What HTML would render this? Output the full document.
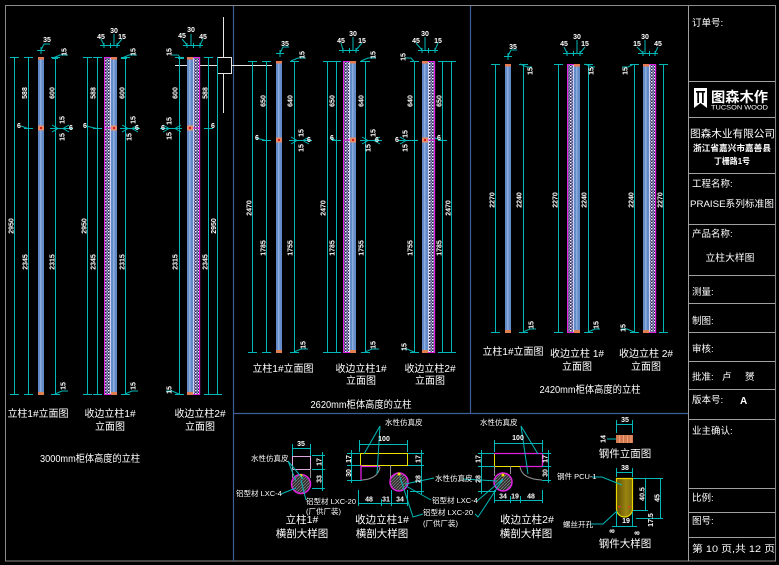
<!DOCTYPE html>
<html><head><meta charset="utf-8">
<style>
html,body{margin:0;padding:0;background:#000;width:779px;height:565px;overflow:hidden;}
svg{display:block;}
text{font-family:"Liberation Sans","Noto Sans CJK SC",sans-serif;fill:#fff;}
.d{font-size:7px;font-weight:bold;}
.c{font-size:10px;}
.b{font-size:10.5px;}
.s{font-size:7.5px;}
.t{font-size:9.5px;}
</style></head><body>
<svg width="779" height="565" viewBox="0 0 779 565" xmlns="http://www.w3.org/2000/svg">
<defs>
<pattern id="h" width="3" height="3" patternUnits="userSpaceOnUse">
<rect width="3" height="3" fill="#2a2a4c"/>
<rect x="0" y="0" width="1.4" height="1.4" fill="#f2f0ff"/>
<rect x="1.5" y="1.5" width="1.4" height="1.4" fill="#b8b0f0"/>
<rect x="1.5" y="0" width="1" height="1" fill="#7070b0"/>
</pattern>
<pattern id="ch" width="3" height="3" patternUnits="userSpaceOnUse">
<rect width="3" height="3" fill="#2e2e2e"/>
<path d="M0,3L3,0" stroke="#8a8a8a" stroke-width="0.7"/>
</pattern>
<linearGradient id="ol" x1="0" y1="0" x2="1" y2="0">
<stop offset="0" stop-color="#5e5000"/><stop offset="0.6" stop-color="#9a8410"/><stop offset="1" stop-color="#7a6a08"/>
</linearGradient>
</defs>
<rect width="779" height="565" fill="#000"/>

<!-- frame -->
<rect x="5.5" y="5.5" width="770" height="555.5" fill="none" stroke="#8a8a8a"/>
<path d="M233.5,6V561M470.5,6V413.5M233.5,413.5H688.5" stroke="#3e5f96" stroke-width="1.2" fill="none"/>
<path d="M688.5,6V561M689,81.5H775M689,117.5H775M689,173.5H775M689,224.5H775M689,275.5H775M689,303.5H775M689,332.5H775M689,361.5H775M689,389.5H775M689,419.5H775M689,488.5H775M689,512.5H775M689,537.5H775" stroke="#a0a0a0" fill="none"/>

<!-- title block -->
<text class="t" x="692" y="26">订单号:</text>
<path d="M694,88H707V108L700.5,103L694,108Z" fill="#fff"/>
<path d="M696,91H705V92.6H696Z M697.3,92H699V103H697.3Z M702,92H703.7V103H702Z" fill="#000"/>
<text x="711" y="102" style="font-size:14px;font-weight:bold" textLength="57" lengthAdjust="spacingAndGlyphs">图森木作</text>
<text x="711" y="109.5" style="font-size:6.5px" textLength="57" lengthAdjust="spacingAndGlyphs">TUCSON WOOD</text>
<text x="690" y="137" style="font-size:10.5px" textLength="85" lengthAdjust="spacingAndGlyphs">图森木业有限公司</text>
<text x="693" y="151" style="font-size:8.5px;font-weight:bold" textLength="78" lengthAdjust="spacingAndGlyphs">浙江省嘉兴市嘉善县</text>
<text x="732" y="164" style="font-size:8.5px;font-weight:bold" text-anchor="middle" textLength="36" lengthAdjust="spacingAndGlyphs">丁栅路1号</text>
<text class="t" x="692" y="187">工程名称:</text>
<text class="t" x="690" y="207" textLength="84" lengthAdjust="spacingAndGlyphs">PRAISE系列标准图</text>
<text class="t" x="692" y="237">产品名称:</text>
<text class="t" x="730" y="261" text-anchor="middle" textLength="49" lengthAdjust="spacingAndGlyphs">立柱大样图</text>
<text class="t" x="692" y="295">测量:</text>
<text class="t" x="692" y="324">制图:</text>
<text class="t" x="692" y="352">审核:</text>
<text class="t" x="692" y="380">批准:</text>
<text class="t" x="722" y="380">卢</text>
<text class="t" x="745" y="380">赟</text>
<text class="t" x="692" y="403">版本号:</text>
<text x="740" y="404" style="font-size:10px;font-weight:bold">A</text>
<text class="t" x="692" y="434">业主确认:</text>
<text class="t" x="692" y="501">比例:</text>
<text class="t" x="692" y="524">图号:</text>
<text class="t" x="692" y="552" textLength="83" lengthAdjust="spacingAndGlyphs">第 10 页,共 12 页</text>

<!-- white marker -->
<g stroke="#e6e6e6" fill="none">
<rect x="217.5" y="57.5" width="14" height="16"/>
<path d="M223.5,17V57M223.5,74V113M175,65.5H217M231.5,65.5H272"/>
</g>

<!-- ============ LEFT PANEL posts ============ -->
<rect x="38" y="57" width="6" height="338" fill="#628bc8"/>
<rect x="40" y="57" width="1.5" height="338" fill="#8cacde"/>
<rect x="38" y="57" width="6" height="2.5" fill="#e8784e"/>
<rect x="38" y="392" width="6" height="3" fill="#e08050"/>
<rect x="38" y="125.5" width="6" height="5" fill="#e88a68"/><rect x="40" y="127" width="2" height="2" fill="#d02020"/>

<rect x="104" y="57" width="1.2" height="338" fill="#e020e0"/>
<rect x="105.2" y="57" width="4.8" height="338" fill="url(#h)"/>
<rect x="110" y="57" width="1" height="338" fill="#d0d0f0"/>
<rect x="111" y="57" width="6" height="338" fill="#628bc8"/>
<rect x="113" y="57" width="1.5" height="338" fill="#8cacde"/>
<rect x="104" y="57" width="7" height="1" fill="#e020e0"/><rect x="104" y="394" width="7" height="1" fill="#e020e0"/>
<rect x="111" y="57" width="6" height="2.5" fill="#e8784e"/><rect x="111" y="392" width="6" height="3" fill="#e08050"/>
<rect x="104" y="127.5" width="7" height="1" fill="#e020e0"/>
<rect x="111" y="125.5" width="6" height="5" fill="#e88a68"/><rect x="113" y="127" width="2" height="2" fill="#d02020"/>

<rect x="187" y="57" width="6" height="338" fill="#628bc8"/>
<rect x="189" y="57" width="1.5" height="338" fill="#8cacde"/>
<rect x="193" y="57" width="1" height="338" fill="#d0d0f0"/>
<rect x="194" y="57" width="5" height="338" fill="url(#h)"/>
<rect x="199" y="57" width="1.2" height="338" fill="#e020e0"/>
<rect x="193" y="57" width="7" height="1" fill="#e020e0"/><rect x="193" y="394" width="7" height="1" fill="#e020e0"/>
<rect x="187" y="57" width="6" height="2.5" fill="#e8784e"/><rect x="187" y="392" width="6" height="3" fill="#e08050"/>
<rect x="193" y="127.5" width="7" height="1" fill="#e020e0"/>
<rect x="187" y="125.5" width="6" height="5" fill="#e88a68"/><rect x="189" y="127" width="2" height="2" fill="#d02020"/>

<!-- ============ MIDDLE PANEL posts ============ -->
<rect x="276" y="61" width="6" height="292" fill="#628bc8"/>
<rect x="278" y="61" width="1.5" height="292" fill="#8cacde"/>
<rect x="276" y="61" width="6" height="2.5" fill="#e8784e"/>
<rect x="276" y="350" width="6" height="3" fill="#e08050"/>
<rect x="276" y="137.5" width="6" height="5" fill="#e88a68"/><rect x="278" y="139" width="2" height="2" fill="#d02020"/>

<rect x="343" y="61" width="1.2" height="292" fill="#e020e0"/>
<rect x="344.2" y="61" width="4.8" height="292" fill="url(#h)"/>
<rect x="349" y="61" width="1" height="292" fill="#d0d0f0"/>
<rect x="350" y="61" width="6" height="292" fill="#628bc8"/>
<rect x="352" y="61" width="1.5" height="292" fill="#8cacde"/>
<rect x="343" y="61" width="7" height="1" fill="#e020e0"/><rect x="343" y="352" width="7" height="1" fill="#e020e0"/>
<rect x="350" y="61" width="6" height="2.5" fill="#e8784e"/><rect x="350" y="350" width="6" height="3" fill="#e08050"/>
<rect x="343" y="139.5" width="7" height="1" fill="#e020e0"/>
<rect x="350" y="137.5" width="6" height="5" fill="#e88a68"/><rect x="352" y="139" width="2" height="2" fill="#d02020"/>

<rect x="422" y="61" width="6" height="292" fill="#628bc8"/>
<rect x="424" y="61" width="1.5" height="292" fill="#8cacde"/>
<rect x="428" y="61" width="1" height="292" fill="#d0d0f0"/>
<rect x="429" y="61" width="5" height="292" fill="url(#h)"/>
<rect x="434" y="61" width="1.2" height="292" fill="#e020e0"/>
<rect x="428" y="61" width="7" height="1" fill="#e020e0"/><rect x="428" y="352" width="7" height="1" fill="#e020e0"/>
<rect x="422" y="61" width="6" height="2.5" fill="#e8784e"/><rect x="422" y="350" width="6" height="3" fill="#e08050"/>
<rect x="428" y="139.5" width="7" height="1" fill="#e020e0"/>
<rect x="422" y="137.5" width="6" height="5" fill="#e88a68"/><rect x="424" y="139" width="2" height="2" fill="#d02020"/>

<!-- ============ RIGHT PANEL posts ============ -->
<rect x="505" y="64" width="6" height="269" fill="#628bc8"/>
<rect x="507" y="64" width="1.5" height="269" fill="#8cacde"/>
<rect x="505" y="64" width="6" height="2.5" fill="#e8784e"/>
<rect x="505" y="330" width="6" height="3" fill="#e08050"/>

<rect x="567" y="64" width="1.2" height="269" fill="#e020e0"/>
<rect x="568.2" y="64" width="4.8" height="269" fill="url(#h)"/>
<rect x="573" y="64" width="1" height="269" fill="#d0d0f0"/>
<rect x="574" y="64" width="6" height="269" fill="#628bc8"/>
<rect x="576" y="64" width="1.5" height="269" fill="#8cacde"/>
<rect x="567" y="64" width="7" height="1" fill="#e020e0"/><rect x="567" y="332" width="7" height="1" fill="#e020e0"/>
<rect x="574" y="64" width="6" height="2.5" fill="#e8784e"/><rect x="574" y="330" width="6" height="3" fill="#e08050"/>

<rect x="643" y="64" width="6" height="269" fill="#628bc8"/>
<rect x="645" y="64" width="1.5" height="269" fill="#8cacde"/>
<rect x="649" y="64" width="1" height="269" fill="#d0d0f0"/>
<rect x="650" y="64" width="5" height="269" fill="url(#h)"/>
<rect x="655" y="64" width="1.2" height="269" fill="#e020e0"/>
<rect x="649" y="64" width="7" height="1" fill="#e020e0"/><rect x="649" y="332" width="7" height="1" fill="#e020e0"/>
<rect x="643" y="64" width="6" height="2.5" fill="#e8784e"/><rect x="643" y="330" width="6" height="3" fill="#e08050"/>

<!-- ============ dimension lines (cyan) ============ -->
<g stroke="#00b8b8" fill="none" stroke-width="1">
<path d="M14.5,57V395M10,57.5h9M10,394.5h9M28.5,57V395M24,57.5h9M24,128.5h9M24,394.5h9M55.5,57V395M51,57.5h9M51,394.5h9M50,128.5H73M52,125L58,128.5L52,132M69,125L63,128.5L69,132"/>
<path d="M87.5,57V395M83,57.5h9M83,394.5h9M97.5,57V395M93,57.5h9M93,128.5h9M93,394.5h9M125.5,57V395M121,57.5h9M121,394.5h9M120,128.5H140M122,125L128,128.5L122,132M138,125L132,128.5L138,132"/>
<path d="M179.5,57V395M175,57.5h9M175,394.5h9M160,128.5H182M163,125L169,128.5L163,132M181,125L175,128.5L181,132M208.5,57V395M204,57.5h9M204,128.5h9M204,394.5h9M217.5,57V395M213,394.5h9"/>
<path d="M252.5,61V353M248,61.5h9M248,352.5h9M266.5,61V353M262,61.5h9M262,140.5h9M262,352.5h9M294.5,61V353M290,61.5h9M290,352.5h9M289,140.5H312M291,137L297,140.5L291,144M309,137L303,140.5L309,144"/>
<path d="M327.5,61V353M323,61.5h9M323,352.5h9M336.5,61V353M332,61.5h9M332,140.5h9M332,352.5h9M365.5,61V353M361,61.5h9M361,352.5h9M360,140.5H382M362,137L368,140.5L362,144M380,137L374,140.5L380,144"/>
<path d="M414.5,61V353M410,61.5h9M410,352.5h9M398,140.5H418M400,137L406,140.5L400,144M442.5,61V353M438,61.5h9M438,140.5h9M438,352.5h9M451.5,61V353M447,61.5h9M447,352.5h9"/>
<path d="M495.5,64V333M491,64.5h9M491,332.5h9M523.5,64V333M519,64.5h9M519,332.5h9"/>
<path d="M558.5,64V333M554,64.5h9M554,332.5h9M588.5,64V333M584,64.5h9M584,332.5h9"/>
<path d="M634.5,64V333M630,64.5h9M630,332.5h9M663.5,64V333M659,64.5h9M659,332.5h9"/>
<path d="M37,50.5h8M41,47v7M41,50L44,44H50M52,58.5h6M53,58L60,55H68"/>
<path d="M100,45.5H120M104,43v5M110.5,43v5M117,43v5M101,39L104,45M114,34V45M122,39L117,45M121,58.5h6M122,58L129,55H137"/>
<path d="M183,45.5H203M187,43v5M193.5,43v5M200,43v5M182,39L187,45M191,34V45M203,39L200,45M172,55H178L181,58.5M178,58.5h6"/>
<path d="M276,53.5h8M280,50v7M280,53L283,47H289M290,61.5h6M291,61L298,58H306"/>
<path d="M339,50.5H359M343,48v5M349.5,48v5M356,48v5M341,43L343,50M353,37V50M362,43L356,50M360,61.5h6M361,61L368,58H376"/>
<path d="M418,50.5H438M422,48v5M428.5,48v5M435,48v5M416,43L422,50M425,37V50M438,43L435,50M405,58H411L414,61.5M411,61.5h6"/>
<path d="M504,56.5h8M508,53v7M508,56L511,50H517M519,64.5h6M520,64L527,67H532"/>
<path d="M563,53.5H583M567,51v5M573.5,51v5M580,51v5M564,47L567,53M577,40V53M585,47L580,53M584,64.5h6M585,64L592,67H595"/>
<path d="M638,53.5H658M643,51v5M649.5,51v5M655,51v5M637,47L643,53M645,40V53M658,47L655,53M622,67H628L633,64.5M630,64.5h6"/>
<path d="M52,394.5h6M55,394L62,391H68M122,394.5h6M125,394L132,391H138M175,394.5h6M179,394L172,391H166"/>
<path d="M290,352.5h6M294,352L301,349H308M361,352.5h6M365,352L372,349H379M410,352.5h6M414,352L407,349H401"/>
<path d="M519,332.5h6M523,332L530,329H536M584,332.5h6M588,332L595,329H600M630,332.5h6M634,332L627,329H621"/>
<path d="M21,126L28,128.5M86,126L97,128.5M435,138L442,140.5M256,138L266,140.5M330,138L336,140.5"/>
</g>

<!-- dimension labels (rotated) -->
<g>
<text transform="translate(13.5,226) rotate(-90)" text-anchor="middle" class="d">2950</text>
<text transform="translate(27,93) rotate(-90)" text-anchor="middle" class="d">588</text>
<text transform="translate(54.5,93) rotate(-90)" text-anchor="middle" class="d">600</text>
<text transform="translate(27.5,262) rotate(-90)" text-anchor="middle" class="d">2345</text>
<text transform="translate(54.5,262) rotate(-90)" text-anchor="middle" class="d">2315</text>
<text transform="translate(86.5,226) rotate(-90)" text-anchor="middle" class="d">2950</text>
<text transform="translate(95.5,93) rotate(-90)" text-anchor="middle" class="d">588</text>
<text transform="translate(124.5,93) rotate(-90)" text-anchor="middle" class="d">600</text>
<text transform="translate(95.5,262) rotate(-90)" text-anchor="middle" class="d">2345</text>
<text transform="translate(124.5,262) rotate(-90)" text-anchor="middle" class="d">2315</text>
<text transform="translate(177.5,93) rotate(-90)" text-anchor="middle" class="d">600</text>
<text transform="translate(207.5,93) rotate(-90)" text-anchor="middle" class="d">588</text>
<text transform="translate(177.5,262) rotate(-90)" text-anchor="middle" class="d">2315</text>
<text transform="translate(207.5,262) rotate(-90)" text-anchor="middle" class="d">2345</text>
<text transform="translate(216,226) rotate(-90)" text-anchor="middle" class="d">2950</text>

<text transform="translate(251.5,208) rotate(-90)" text-anchor="middle" class="d">2470</text>
<text transform="translate(265.5,101) rotate(-90)" text-anchor="middle" class="d">650</text>
<text transform="translate(292.5,101) rotate(-90)" text-anchor="middle" class="d">640</text>
<text transform="translate(265.5,248) rotate(-90)" text-anchor="middle" class="d">1785</text>
<text transform="translate(292.5,248) rotate(-90)" text-anchor="middle" class="d">1755</text>
<text transform="translate(325.5,208) rotate(-90)" text-anchor="middle" class="d">2470</text>
<text transform="translate(334.5,101) rotate(-90)" text-anchor="middle" class="d">650</text>
<text transform="translate(363.5,101) rotate(-90)" text-anchor="middle" class="d">640</text>
<text transform="translate(334.5,248) rotate(-90)" text-anchor="middle" class="d">1785</text>
<text transform="translate(363.5,248) rotate(-90)" text-anchor="middle" class="d">1755</text>
<text transform="translate(412.5,101) rotate(-90)" text-anchor="middle" class="d">640</text>
<text transform="translate(441.5,101) rotate(-90)" text-anchor="middle" class="d">650</text>
<text transform="translate(412.5,248) rotate(-90)" text-anchor="middle" class="d">1755</text>
<text transform="translate(441.5,248) rotate(-90)" text-anchor="middle" class="d">1785</text>
<text transform="translate(450.5,208) rotate(-90)" text-anchor="middle" class="d">2470</text>

<text transform="translate(494.5,200) rotate(-90)" text-anchor="middle" class="d">2270</text>
<text transform="translate(521.5,200) rotate(-90)" text-anchor="middle" class="d">2240</text>
<text transform="translate(557.5,200) rotate(-90)" text-anchor="middle" class="d">2270</text>
<text transform="translate(586.5,200) rotate(-90)" text-anchor="middle" class="d">2240</text>
<text transform="translate(633.5,200) rotate(-90)" text-anchor="middle" class="d">2240</text>
<text transform="translate(662.5,200) rotate(-90)" text-anchor="middle" class="d">2270</text>

<text transform="translate(65.5,386) rotate(-90)" text-anchor="middle" class="d">15</text>
<text transform="translate(135.5,386) rotate(-90)" text-anchor="middle" class="d">15</text>
<text transform="translate(171.5,390) rotate(-90)" text-anchor="middle" class="d">15</text>
<text transform="translate(305.5,345) rotate(-90)" text-anchor="middle" class="d">15</text>
<text transform="translate(375.5,345) rotate(-90)" text-anchor="middle" class="d">15</text>
<text transform="translate(406.5,347) rotate(-90)" text-anchor="middle" class="d">15</text>
<text transform="translate(533.5,325) rotate(-90)" text-anchor="middle" class="d">15</text>
<text transform="translate(598.5,325) rotate(-90)" text-anchor="middle" class="d">15</text>
<text transform="translate(625.5,328) rotate(-90)" text-anchor="middle" class="d">15</text>
<text transform="translate(66.5,52) rotate(-90)" text-anchor="middle" class="d">15</text>
<text transform="translate(135.5,52) rotate(-90)" text-anchor="middle" class="d">15</text>
<text transform="translate(171.5,52) rotate(-90)" text-anchor="middle" class="d">15</text>
<text transform="translate(304.5,55) rotate(-90)" text-anchor="middle" class="d">15</text>
<text transform="translate(375.5,55) rotate(-90)" text-anchor="middle" class="d">15</text>
<text transform="translate(405.5,57) rotate(-90)" text-anchor="middle" class="d">15</text>
<text transform="translate(532.5,71) rotate(-90)" text-anchor="middle" class="d">15</text>
<text transform="translate(593.5,71) rotate(-90)" text-anchor="middle" class="d">15</text>
<text transform="translate(627.5,71) rotate(-90)" text-anchor="middle" class="d">15</text>
<text transform="translate(64.5,120) rotate(-90)" text-anchor="middle" class="d">15</text>
<text transform="translate(64.5,137) rotate(-90)" text-anchor="middle" class="d">15</text>
<text transform="translate(135.5,120) rotate(-90)" text-anchor="middle" class="d">15</text>
<text transform="translate(131.5,137) rotate(-90)" text-anchor="middle" class="d">15</text>
<text transform="translate(171.5,121) rotate(-90)" text-anchor="middle" class="d">15</text>
<text transform="translate(171.5,136) rotate(-90)" text-anchor="middle" class="d">15</text>
<text transform="translate(303.5,133) rotate(-90)" text-anchor="middle" class="d">15</text>
<text transform="translate(303.5,148) rotate(-90)" text-anchor="middle" class="d">15</text>
<text transform="translate(375.5,133) rotate(-90)" text-anchor="middle" class="d">15</text>
<text transform="translate(370.5,148) rotate(-90)" text-anchor="middle" class="d">15</text>
<text transform="translate(407.5,134) rotate(-90)" text-anchor="middle" class="d">15</text>
<text transform="translate(407.5,148) rotate(-90)" text-anchor="middle" class="d">15</text>
</g>

<g text-anchor="middle">
<text x="47" y="42" class="d">35</text>
<text x="101" y="39" class="d">45</text><text x="114" y="33" class="d">30</text><text x="122" y="39" class="d">15</text>
<text x="182" y="38" class="d">45</text><text x="191" y="32" class="d">30</text><text x="203" y="39" class="d">45</text>
<text x="285" y="46" class="d">35</text>
<text x="341" y="43" class="d">45</text><text x="353" y="36" class="d">30</text><text x="362" y="43" class="d">15</text>
<text x="416" y="43" class="d">45</text><text x="425" y="36" class="d">30</text><text x="438" y="43" class="d">15</text>
<text x="513" y="49" class="d">35</text>
<text x="564" y="46" class="d">45</text><text x="577" y="39" class="d">30</text><text x="585" y="46" class="d">15</text>
<text x="637" y="46" class="d">15</text><text x="645" y="39" class="d">30</text><text x="658" y="46" class="d">45</text>
<text x="19" y="128" class="d">6</text><text x="71" y="130" class="d">6</text>
<text x="85" y="128" class="d">6</text><text x="137" y="130" class="d">6</text>
<text x="163" y="130" class="d">6</text><text x="213" y="128" class="d">6</text>
<text x="257" y="140" class="d">6</text><text x="309" y="142" class="d">6</text>
<text x="332" y="140" class="d">6</text><text x="377" y="142" class="d">6</text>
<text x="397" y="142" class="d">6</text><text x="439" y="140" class="d">6</text>
</g>

<!-- panel captions -->
<text class="c" x="38" y="417" text-anchor="middle">立柱1#立面图</text>
<text class="c" x="110" y="417" text-anchor="middle">收边立柱1#</text>
<text class="c" x="110" y="430" text-anchor="middle">立面图</text>
<text class="c" x="200" y="417" text-anchor="middle">收边立柱2#</text>
<text class="c" x="200" y="430" text-anchor="middle">立面图</text>
<text class="c" x="90" y="462" text-anchor="middle" textLength="100" lengthAdjust="spacingAndGlyphs">3000mm柜体高度的立柱</text>

<text class="c" x="283" y="372" text-anchor="middle">立柱1#立面图</text>
<text class="c" x="361" y="372" text-anchor="middle">收边立柱1#</text>
<text class="c" x="361" y="384" text-anchor="middle">立面图</text>
<text class="c" x="430" y="372" text-anchor="middle">收边立柱2#</text>
<text class="c" x="430" y="384" text-anchor="middle">立面图</text>
<text class="c" x="361" y="408" text-anchor="middle" textLength="101" lengthAdjust="spacingAndGlyphs">2620mm柜体高度的立柱</text>

<text class="c" x="513" y="355" text-anchor="middle">立柱1#立面图</text>
<text class="c" x="577" y="357" text-anchor="middle">收边立柱 1#</text>
<text class="c" x="577" y="370" text-anchor="middle">立面图</text>
<text class="c" x="646" y="357" text-anchor="middle">收边立柱 2#</text>
<text class="c" x="646" y="370" text-anchor="middle">立面图</text>
<text class="c" x="590" y="393" text-anchor="middle" textLength="101" lengthAdjust="spacingAndGlyphs">2420mm柜体高度的立柱</text>

<!-- ============ BOTTOM DETAILS ============ -->
<rect x="292.5" y="456.5" width="18" height="13" fill="#000" stroke="#e0a8e0"/>
<path d="M292.5,469V478M310.5,469V478" stroke="#909090" fill="none"/>
<circle cx="301" cy="484" r="9.5" fill="url(#ch)" stroke="#e020e0" stroke-width="1.5"/>
<circle cx="301" cy="475.5" r="1.5" fill="#f0e000"/>

<rect x="360.5" y="453.5" width="47" height="12" fill="#000" stroke="#e8e000"/>
<path d="M361,465V480M361,466.5H380" stroke="#e020e0" stroke-width="1.3" fill="none"/>
<path d="M380,467Q378,479 362,480M390.5,465V479" stroke="#909090" fill="none"/>
<circle cx="399" cy="482" r="9" fill="url(#ch)" stroke="#e020e0" stroke-width="1.5"/>
<circle cx="399" cy="474" r="1.5" fill="#f0e000"/>

<rect x="494.5" y="453.5" width="48" height="13" fill="#000" stroke="#e8e000"/>
<path d="M494,453.5H543M520,466.5H543M542.5,453V467" stroke="#e020e0" stroke-width="1.3" fill="none"/>
<path d="M520,467Q522,479 542,480M494.5,466V476M510.5,466V474" stroke="#909090" fill="none"/>
<circle cx="503" cy="482" r="9" fill="url(#ch)" stroke="#e020e0" stroke-width="1.5"/>
<circle cx="503" cy="475" r="1.5" fill="#f0e000"/>

<rect x="616" y="435" width="17" height="8" fill="#d47a50"/>
<path d="M619.5,435V443M623.5,435V443M627.5,435V443M631,435V443" stroke="#f4a888" stroke-width="0.8"/>
<path d="M616.5,478.5H632.5V509A8,8 0 0 1 616.5,509Z" fill="url(#ol)" stroke="#e8d800" stroke-width="1.2"/>
<rect x="618.5" y="506" width="2" height="1.5" fill="#ff3030"/><rect x="628.5" y="506" width="2" height="1.5" fill="#ff3030"/>

<g stroke="#00b8b8" fill="none">
<path d="M292,448.5H311M292.5,444V456M310.5,444V456M312,455.5H325M312,469.5H325M312,488.5H325M322.5,452V491"/>
<path d="M288,461L296,481M288,461L303,479M281,494L296,488M306,500L301,480"/>
<path d="M359,444.5H408M359.5,440V452M407.5,440V452M347,453.5H360M347,465.5H360M347,480.5H362M351.5,450V483M408,453.5H424M408,465.5H424M410,491.5H424M421.5,450V494M358,503.5H408M358.5,490V506M381.5,499V506M391.5,490V506M407.5,490V506"/>
<path d="M380,426L364,454M380,426L377,474M434,478L405,484M431,500L406,486M423,514L413,517L400,477"/>
<path d="M494,443.5H543M494.5,440V452M542.5,440V452M478,453.5H494M478,466.5H494M478,491.5H496M481.5,450V494M542,453.5H551M542,466.5H551M542,480.5H551M548.5,450V483M494,500.5H543M494.5,490V503M510.5,496V503M520.5,496V503M542.5,490V503"/>
<path d="M521,426L538,454M521,426L528,474M463,479L497,481M477,501L503,479M475,514L478,517L503,479"/>
<path d="M616,424.5H633M616.5,420V433M632.5,420V433M607,439H616M616,472.5H633M616.5,468V477M632.5,468V477"/>
<path d="M592,477H602L622,485M590,524H603L617,511"/>
<path d="M633,478.5H663M633,510.5H648M636,518.5H663M645.5,478V511M660.5,478V519M616.5,512V527M632.5,512V527M612,526.5H637"/>
</g>

<g text-anchor="middle">
<text x="301" y="446" class="d">35</text>
<text x="384" y="441" class="d">100</text>
<text x="518" y="440" class="d">100</text>
<text x="369" y="501.5" class="d">48</text><text x="386" y="501.5" class="d">31</text><text x="400" y="501.5" class="d">34</text>
<text x="503" y="498.5" class="d">34</text><text x="515" y="498.5" class="d">19</text><text x="531" y="498.5" class="d">48</text>
<text x="625" y="422" class="d">35</text>
<text x="625" y="470" class="d">38</text>
<text x="626" y="523" class="d">19</text>
</g>
<g>
<text transform="translate(321.5,462) rotate(-90)" text-anchor="middle" class="d">17</text>
<text transform="translate(321.5,479) rotate(-90)" text-anchor="middle" class="d">33</text>
<text transform="translate(351,459) rotate(-90)" text-anchor="middle" class="d">17</text>
<text transform="translate(351,473) rotate(-90)" text-anchor="middle" class="d">30</text>
<text transform="translate(420.5,459) rotate(-90)" text-anchor="middle" class="d">17</text>
<text transform="translate(420.5,479) rotate(-90)" text-anchor="middle" class="d">28</text>
<text transform="translate(480.5,459) rotate(-90)" text-anchor="middle" class="d">17</text>
<text transform="translate(480.5,479) rotate(-90)" text-anchor="middle" class="d">28</text>
<text transform="translate(547.5,459) rotate(-90)" text-anchor="middle" class="d">17</text>
<text transform="translate(547.5,473) rotate(-90)" text-anchor="middle" class="d">30</text>
<text transform="translate(605.5,439) rotate(-90)" text-anchor="middle" class="d">14</text>
<text transform="translate(644.5,494) rotate(-90)" text-anchor="middle" class="d">40.5</text>
<text transform="translate(659.5,498) rotate(-90)" text-anchor="middle" class="d">45</text>
<text transform="translate(653,520) rotate(-90)" text-anchor="middle" class="d">17.5</text>
<text transform="translate(614.5,531) rotate(-90)" text-anchor="middle" class="d">8</text>
<text transform="translate(639.5,533) rotate(-90)" text-anchor="middle" class="d">8</text>
</g>

<text class="s" x="251" y="461">水性仿真皮</text>
<text class="s" x="236" y="496">铝型材 LXC-4</text>
<text class="s" x="306" y="504">铝型材 LXC-20</text>
<text class="s" x="306" y="514">(厂供厂装)</text>
<text class="s" x="385" y="425">水性仿真皮</text>
<text class="s" x="435" y="481">水性仿真皮</text>
<text class="s" x="432" y="503">铝型材 LXC-4</text>
<text class="s" x="423" y="515">铝型材 LXC-20</text>
<text class="s" x="423" y="526">(厂供厂装)</text>
<text class="s" x="480" y="425">水性仿真皮</text>
<text class="s" x="557" y="479">钢件 PCU-1</text>
<text class="s" x="563" y="527">螺丝开孔</text>

<text class="b" x="302" y="523" text-anchor="middle">立柱1#</text>
<text class="b" x="302" y="537" text-anchor="middle">横剖大样图</text>
<text class="b" x="382" y="523" text-anchor="middle">收边立柱1#</text>
<text class="b" x="382" y="537" text-anchor="middle">横剖大样图</text>
<text class="b" x="527" y="523" text-anchor="middle">收边立柱2#</text>
<text class="b" x="526" y="537" text-anchor="middle">横剖大样图</text>
<text class="b" x="625" y="457" text-anchor="middle">钢件立面图</text>
<text class="b" x="625" y="547" text-anchor="middle">钢件大样图</text>
</svg>
</body></html>
